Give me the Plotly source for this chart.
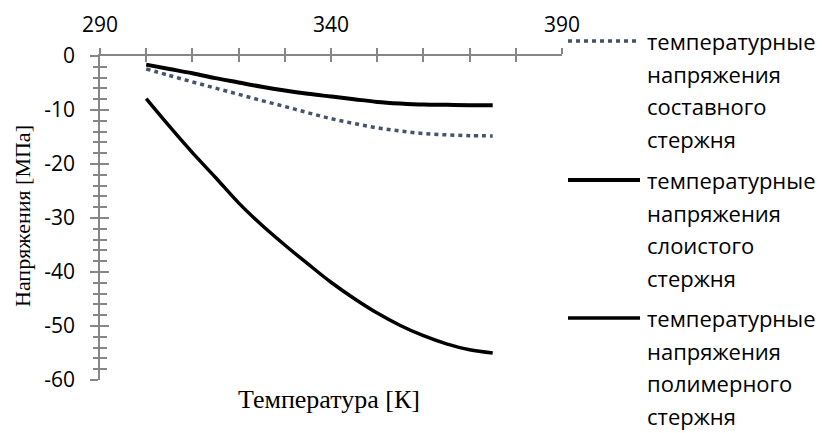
import plotly.graph_objects as go

# temperature, K
temperature = [300, 305, 310, 315, 320, 325, 330, 335, 340, 345, 350, 355, 360, 365, 370, 375]

# stresses, MPa
stress_composite = [-2.4, -3.6, -4.8, -5.95, -7.1, -8.25, -9.35, -10.5, -11.6, -12.5, -13.3, -13.9, -14.35, -14.6, -14.75, -14.8]
stress_layered = [-1.6, -2.4, -3.2, -4.1, -4.9, -5.7, -6.4, -7.0, -7.5, -8.0, -8.5, -8.8, -9.0, -9.05, -9.1, -9.1]
stress_polymer = [-7.9, -13.0, -17.9, -22.5, -27.2, -31.3, -35.0, -38.5, -41.9, -44.9, -47.6, -49.9, -51.8, -53.3, -54.4, -55.0]

y_ticks = [0, -10, -20, -30, -40, -50, -60]
y_ticklabels = ["0", "-10", "-20", "-30", "-40", "-50", "-60"]

legend_lines = [
    ["температурные", "напряжения", "составного", "стержня"],
    ["температурные", "напряжения", "слоистого", "стержня"],
    ["температурные", "напряжения", "полимерного", "стержня"],
]

AXIS = "#868686"
SANS = "Open Sans"
SERIF = "Liberation Serif"

# the page body adds an 8px offset, so the figure is drawn 8px smaller
OFF = 8
W, H = 823 - OFF, 433 - OFF
ML, MR, MT, MB = 92, 261, 48, 53
pw, ph = W - ML - MR, H - MT - MB


def px(x):
    return (x - OFF - ML) / pw


def py(y):
    return (H - MB - (y - OFF)) / ph


fig = go.Figure()

fig.add_trace(go.Scatter(x=temperature, y=stress_composite, mode="lines", line_shape="spline",
                         line=dict(color="#44546A", width=3.5, dash="4px,4px"),
                         name="температурные напряжения составного стержня"))
fig.add_trace(go.Scatter(x=temperature, y=stress_layered, mode="lines", line_shape="spline",
                         line=dict(color="black", width=4),
                         name="температурные напряжения слоистого стержня"))
fig.add_trace(go.Scatter(x=temperature, y=stress_polymer, mode="lines", line_shape="spline",
                         line=dict(color="black", width=3.5),
                         name="температурные напряжения полимерного стержня"))
# empty trace so the overlay axes (inner half of the crossing ticks) get drawn
fig.add_trace(go.Scatter(x=[None], y=[None], xaxis="x2", yaxis="y2", showlegend=False, hoverinfo="skip"))

fig.update_layout(
    width=W, height=H,
    margin=dict(l=ML, r=MR, t=MT, b=MB, autoexpand=False),
    paper_bgcolor="white", plot_bgcolor="white",
    showlegend=False,
    font=dict(family=SANS, size=21, color="black"),
    xaxis=dict(range=[290, 390], side="top", tick0=290, dtick=50, showgrid=False, zeroline=False,
               automargin=False, showline=True, linecolor=AXIS, linewidth=1.5,
               ticks="outside", ticklen=6, tickcolor=AXIS, tickwidth=1.5, ticklabelstandoff=8,
               minor=dict(dtick=10, tick0=290, ticks="outside", ticklen=6, tickcolor=AXIS, tickwidth=1.5)),
    xaxis2=dict(range=[290, 390], side="top", overlaying="x", anchor="y2", tick0=290, dtick=10,
                automargin=False, showgrid=False, zeroline=False, showline=False, showticklabels=False,
                ticks="inside", ticklen=6, tickcolor=AXIS, tickwidth=1.5),
    yaxis=dict(range=[-60, 0], tickmode="array", tickvals=y_ticks, ticktext=y_ticklabels,
               showgrid=False, zeroline=False,
               automargin=False, showline=True, linecolor=AXIS, linewidth=1.5,
               ticks="outside", ticklen=8, tickcolor=AXIS, tickwidth=1.5, ticklabelstandoff=11,
               minor=dict(tick0=0, dtick=2, ticks="outside", ticklen=5, tickcolor=AXIS, tickwidth=1.5)),
    yaxis2=dict(range=[-60, 0], overlaying="y", anchor="x2", side="left", tick0=0, dtick=10,
                automargin=False, showgrid=False, zeroline=False, showline=False, showticklabels=False,
                ticks="inside", ticklen=9, tickcolor=AXIS, tickwidth=1.5,
                minor=dict(dtick=2, ticks="inside", ticklen=7, tickcolor=AXIS, tickwidth=1.5)),
)

# axis titles
fig.add_annotation(text="Температура [К]", x=px(329), y=py(399), xref="paper", yref="paper",
                   xanchor="center", yanchor="middle", showarrow=False,
                   font=dict(family=SERIF, size=26, color="black"))
fig.add_annotation(text="Напряжения [МПа]", x=px(22), y=py(216), xref="paper", yref="paper",
                   xanchor="center", yanchor="middle", showarrow=False, textangle=-90,
                   font=dict(family=SERIF, size=22, color="black"))

# legend
styles = [dict(color="#44546A", width=3.5, dash="4px,4px"),
          dict(color="black", width=4),
          dict(color="black", width=3.5)]
entry_top = [41, 180, 318]
for lines, top, style in zip(legend_lines, entry_top, styles):
    fig.add_shape(type="line", xref="paper", yref="paper", x0=px(568), x1=px(640),
                  y0=py(top), y1=py(top), line=style)
    for i, txt in enumerate(lines):
        fig.add_annotation(text=txt, x=px(645), y=py(top + i * 32.5), xref="paper", yref="paper",
                           xanchor="left", yanchor="middle", showarrow=False,
                           font=dict(family=SANS, size=22, color="black"))

fig.write_html("out.html")
